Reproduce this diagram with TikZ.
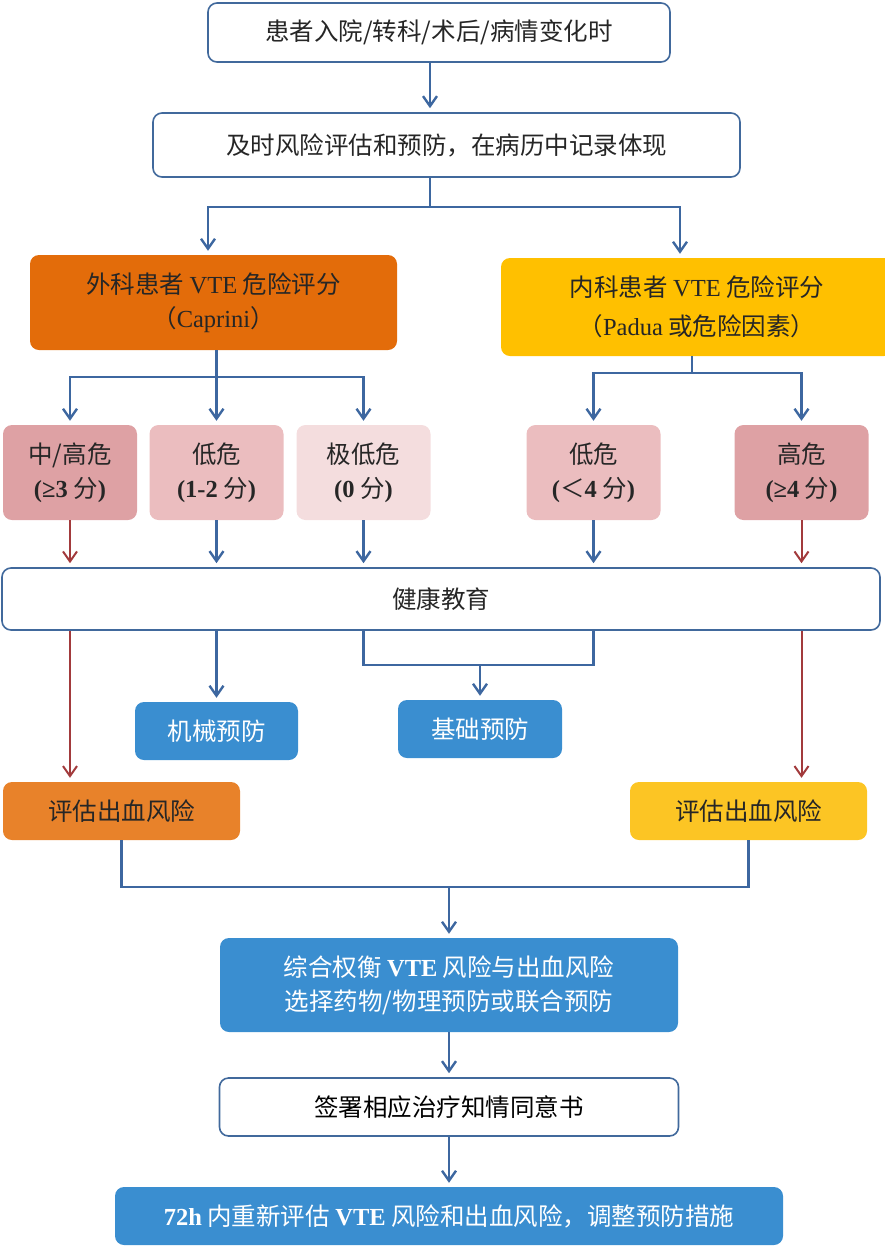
\documentclass[tikz,border=0pt]{standalone}
\usepackage{fontspec}
\setmainfont{Noto Sans CJK SC}
\newfontfamily\latin{Liberation Serif}
\newcommand\lt[1]{{\latin #1}}
\newcommand\lb[1]{{\latin\bfseries #1}}
\usetikzlibrary{arrows.meta}

\definecolor{bordc}{HTML}{41699C}
\definecolor{linkblue}{HTML}{3D67A0}
\definecolor{linkred}{HTML}{A23A3C}
\definecolor{txtc}{HTML}{262626}
\definecolor{surgor}{HTML}{E36C0A}
\definecolor{medyel}{HTML}{FFC000}
\definecolor{pinkd}{HTML}{DEA1A4}
\definecolor{pinkm}{HTML}{EBBDBF}
\definecolor{pinkl}{HTML}{F4DDDE}
\definecolor{bluef}{HTML}{3A8ED0}
\definecolor{bleedor}{HTML}{E8822A}
\definecolor{bleedyel}{HTML}{FCC524}

\begin{document}
\begin{tikzpicture}[x=1pt,y=-1pt,
  wbox/.style={rectangle, rounded corners=9pt, draw=bordc, line width=1.6pt, fill=white,
    text=txtc, align=center, inner sep=0pt, font=\fontsize{24.5}{34}\selectfont},
  fbox/.style={rectangle, rounded corners=9pt, draw=none, text=txtc, align=center,
    inner sep=0pt, font=\fontsize{24.5}{34}\selectfont},
  bluebox/.style={fbox, fill=bluef, text=white},
  riskbox/.style={fbox, minimum width=134, minimum height=95},
  bline/.style={draw=linkblue, line width=2.4pt},
  barrow/.style={bline, -{Straight Barb[length=10pt,width=14pt]}, shorten >=4pt},
  rarrow/.style={draw=linkred, line width=2pt, -{Straight Barb[length=10pt,width=14pt]}, shorten >=4pt}]

\useasboundingbox (0,0) rectangle (885,1248);

% top
\node[wbox, minimum width=462, minimum height=59] (admit) at (439,32.5) {患者入院/转科/术后/病情变化时};
\node[wbox, minimum width=587, minimum height=64] (assess) at (446.5,145) {及时风险评估和预防，在病历中记录体现};

% scores
\node[fbox, fill=surgor, minimum width=367, minimum height=95] (surg) at (213.5,302.5)
  {外科患者 \lt{VTE} 危险评分\\（\lt{Caprini}）};
\node[fbox, fill=medyel, minimum width=392, minimum height=98] (med) at (697,307)
  {内科患者 \lt{VTE} 危险评分\\[5pt]（\lt{Padua} 或危险因素）};

% risk levels
\node[riskbox, fill=pinkd] (hiS) at (70,472.5) {中/高危\\\lb{(≥3} 分\lb{)}};
\node[riskbox, fill=pinkm] (loS) at (216.5,472.5) {低危\\\lb{(1-2} 分\lb{)}};
\node[riskbox, fill=pinkl] (vloS) at (363.5,472.5) {极低危\\\lb{(0} 分\lb{)}};
\node[riskbox, fill=pinkm] (loM) at (593.5,472.5) {低危\\\lb{(}＜\lb{4} 分\lb{)}};
\node[riskbox, fill=pinkd] (hiM) at (801.5,472.5) {高危\\\lb{(≥4} 分\lb{)}};

\node[wbox, minimum width=878, minimum height=62] (edu) at (441,599) {健康教育};

% prevention
\node[bluebox, minimum width=163, minimum height=58] (mech) at (216.5,731) {机械预防};
\node[bluebox, minimum width=164, minimum height=58] (base) at (480,729) {基础预防};
\node[fbox, fill=bleedor, minimum width=237, minimum height=58] (bleedS) at (121.5,811) {评估出血风险};
\node[fbox, fill=bleedyel, minimum width=237, minimum height=58] (bleedM) at (748.5,811) {评估出血风险};

% bottom
\node[bluebox, minimum width=458, minimum height=94] (weigh) at (449,985)
  {综合权衡 \lb{VTE} 风险与出血风险\\选择药物/物理预防或联合预防};
\node[wbox, minimum width=459, minimum height=58, text=black] (consent) at (449,1107) {签署相应治疗知情同意书};
\node[bluebox, minimum width=668, minimum height=58] (reeval) at (449,1216)
  {\lb{72h} 内重新评估 \lb{VTE} 风险和出血风险，调整预防措施};

\coordinate (fork1) at (430,207);
\coordinate (fork2) at (216.5,377);
\coordinate (fork3) at (692,373);
\coordinate (join1) at (480,665);
\coordinate (join2) at (449,887);

\draw[barrow] ([xshift=-9pt]admit.south) -- ([xshift=-9pt]admit.south |- assess.north);
\draw[bline] (assess.south -| fork1) -- (fork1);
\draw[barrow] (fork1) -| ([xshift=-5.5pt]surg.north);
\draw[barrow] (fork1) -| ([xshift=-17pt]med.north);

\draw[barrow] (loS.north |- surg.south) -- (loS.north);
\draw[barrow] (fork2) -| (hiS.north);
\draw[barrow] (fork2) -| (vloS.north);
\draw[bline] (med.south -| fork3) -- (fork3);
\draw[barrow] (fork3) -| (loM.north);
\draw[barrow] (fork3) -| (hiM.north);

\foreach \r in {loS,vloS,loM}
  \draw[barrow] (\r.south) -- (\r.south |- edu.north);
\foreach \r in {hiS,hiM}
  \draw[rarrow] (\r.south) -- (\r.south |- edu.north);

\draw[barrow] (mech.north |- edu.south) -- (mech.north);
\draw[bline] (vloS.south |- edu.south) |- (loM.south |- join1) -- (loM.south |- edu.south);
\draw[barrow] (join1) -- (base.north);
\draw[rarrow] (hiS.south |- edu.south) -- (hiS.south |- bleedS.north);
\draw[rarrow] (hiM.south |- edu.south) -- (hiM.south |- bleedM.north);

\draw[bline] (bleedS.south) |- (bleedM.south |- join2) -- (bleedM.south);
\draw[barrow] (join2) -- (weigh.north);
\draw[barrow] (weigh.south) -- (consent.north);
\draw[barrow] (consent.south) -- (reeval.north);

\end{tikzpicture}
\end{document}
